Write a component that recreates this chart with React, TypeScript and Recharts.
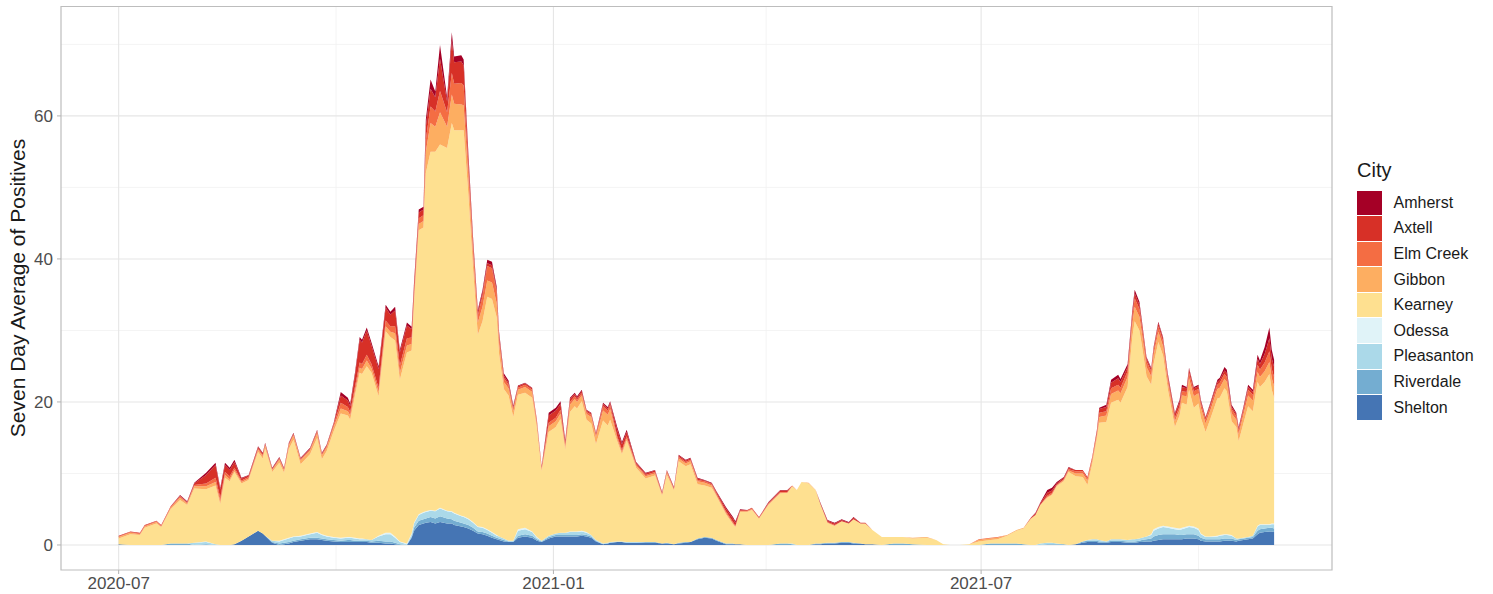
import { Area, AreaChart, CartesianGrid, ReferenceArea, XAxis, YAxis } from "recharts";

// days since 2020-07-01
const days = [
  0, 5, 9, 11, 16, 18, 22, 26, 29, 32,
  37, 41, 43, 45, 47, 49, 52, 55, 59, 61,
  62, 65, 68, 70, 72, 74, 77, 81, 84, 86,
  88, 91, 94, 97, 98, 100, 102, 103, 105, 107,
  110, 113, 115, 117, 119, 122, 124, 125, 127, 129,
  130, 132, 134, 136, 139, 141, 142, 145, 146, 148,
  150, 152, 154, 156, 158, 160, 161, 163, 165, 167,
  169, 172, 175, 177, 179, 182, 185, 187, 189, 191,
  193, 194, 196, 198, 200, 202, 205, 207, 208, 211,
  213, 215, 219, 223, 227, 230, 232, 235, 237, 240,
  242, 245, 248, 251, 253, 257, 260, 261, 263, 266,
  268, 271, 275, 280, 283, 285, 287, 289, 292, 295,
  297, 300, 303, 306, 309, 311, 314, 316, 319, 323,
  328, 332, 336, 342, 346, 349, 352, 356, 360, 364,
  369, 372, 376, 380, 383, 386, 388, 390, 393, 395,
  397, 400, 402, 405, 408, 410, 412, 414, 415, 418,
  420, 423, 424, 427, 429, 430, 432, 433, 435, 437,
  438, 440, 442, 444, 447, 449, 450, 452, 453, 455,
  457, 458, 460, 462, 465, 466, 468, 469, 471, 473,
  474, 476, 478, 480, 482, 483, 485, 487, 488, 489,
];

const shelton = [
  0.1, 0, 0, 0, 0, 0, 0, 0, 0, 0,
  0, 0, 0, 0, 0, 0.1, 0.6, 1.2, 2.0, 1.6,
  1.3, 0.3, 0, 0.1, 0.2, 0.4, 0.6, 0.8, 0.8, 0.7,
  0.6, 0.5, 0.4, 0.4, 0.4, 0.4, 0.4, 0.4, 0.4, 0.3,
  0.3, 0.2, 0.2, 0.1, 0, 0, 1.0, 2.0, 2.8, 3.0,
  3.1, 3.2, 3.0, 3.2, 3.0, 3.0, 2.8, 2.6, 2.5, 2.3,
  2.0, 1.6, 1.5, 1.3, 1.0, 0.8, 0.7, 0.5, 0.4, 0.4,
  1.0, 1.2, 1.0, 0.6, 0.4, 0.9, 1.2, 1.2, 1.2, 1.2,
  1.2, 1.2, 1.3, 1.2, 1.0, 0.5, 0.1, 0.2, 0.3, 0.4,
  0.4, 0.3, 0.3, 0.3, 0.3, 0.2, 0.2, 0.1, 0.2, 0.3,
  0.4, 0.8, 1.0, 0.9, 0.6, 0.1, 0.1, 0.1, 0.1, 0,
  0, 0, 0, 0, 0, 0, 0, 0, 0, 0.1,
  0.1, 0.2, 0.2, 0.3, 0.3, 0.2, 0.2, 0.1, 0.1, 0,
  0, 0, 0, 0, 0, 0, 0, 0, 0, 0,
  0, 0, 0, 0, 0, 0, 0, 0, 0, 0,
  0, 0, 0, 0.1, 0.3, 0.4, 0.4, 0.4, 0.3, 0.3,
  0.4, 0.4, 0.4, 0.3, 0.3, 0.3, 0.4, 0.4, 0.5, 0.5,
  0.6, 0.7, 0.8, 0.8, 0.8, 0.8, 0.8, 0.9, 0.9, 0.9,
  0.8, 0.6, 0.5, 0.5, 0.5, 0.5, 0.6, 0.6, 0.6, 0.5,
  0.6, 0.7, 0.8, 0.9, 1.5, 1.7, 1.8, 1.9, 1.9, 1.8,
];

const riverdale = [
  0, 0, 0, 0, 0, 0, 0.2, 0.2, 0.2, 0,
  0.1, 0, 0, 0, 0, 0, 0, 0, 0, 0,
  0, 0.1, 0.2, 0.2, 0.2, 0.2, 0.2, 0.2, 0.2, 0.2,
  0.2, 0.2, 0.2, 0.3, 0.3, 0.2, 0.2, 0.2, 0.2, 0.2,
  0.3, 0.3, 0.3, 0.2, 0.1, 0, 0.2, 0.4, 0.6, 0.6,
  0.6, 0.7, 0.7, 0.8, 0.7, 0.6, 0.6, 0.5, 0.5, 0.5,
  0.4, 0.3, 0.3, 0.3, 0.3, 0.2, 0.2, 0.2, 0.1, 0.1,
  0.3, 0.3, 0.3, 0.2, 0.1, 0.2, 0.2, 0.2, 0.2, 0.2,
  0.2, 0.2, 0.2, 0.2, 0.2, 0.1, 0, 0, 0, 0,
  0, 0, 0, 0.1, 0.1, 0, 0.1, 0, 0.1, 0.1,
  0, 0.1, 0.1, 0.1, 0.1, 0.1, 0.1, 0, 0, 0,
  0, 0, 0, 0.2, 0.2, 0.1, 0, 0, 0, 0.1,
  0.1, 0.1, 0.1, 0.1, 0.1, 0.1, 0, 0, 0, 0,
  0.2, 0.2, 0.1, 0, 0, 0, 0, 0, 0, 0,
  0.2, 0.2, 0.2, 0.2, 0.1, 0, 0, 0, 0.1, 0.1,
  0.1, 0.1, 0, 0, 0.2, 0.2, 0.2, 0.2, 0.2, 0.1,
  0.2, 0.2, 0.2, 0.2, 0.2, 0.2, 0.2, 0.3, 0.3, 0.4,
  0.6, 0.7, 0.7, 0.7, 0.7, 0.6, 0.6, 0.6, 0.6, 0.6,
  0.5, 0.4, 0.3, 0.3, 0.3, 0.3, 0.3, 0.3, 0.3, 0.2,
  0.2, 0.2, 0.2, 0.2, 0.5, 0.5, 0.5, 0.5, 0.5, 0.5,
];

const pleasanton = [
  0, 0, 0, 0, 0, 0, 0, 0, 0, 0.3,
  0.3, 0.1, 0, 0, 0, 0, 0, 0, 0, 0,
  0, 0.2, 0.3, 0.4, 0.5, 0.5, 0.4, 0.5, 0.7, 0.5,
  0.4, 0.3, 0.3, 0.3, 0.3, 0.3, 0.2, 0.2, 0.2, 0.2,
  0.6, 1.0, 1.0, 0.7, 0.3, 0.1, 0.3, 0.6, 0.8, 0.9,
  0.9, 0.9, 1.0, 1.1, 1.0, 1.0, 1.0, 0.9, 0.9, 0.8,
  0.7, 0.6, 0.6, 0.5, 0.4, 0.3, 0.3, 0.2, 0.1, 0.1,
  0.7, 0.7, 0.5, 0.2, 0.1, 0.2, 0.2, 0.3, 0.3, 0.4,
  0.4, 0.4, 0.4, 0.3, 0.2, 0.1, 0.1, 0.1, 0.1, 0.1,
  0.1, 0.1, 0.1, 0, 0, 0, 0, 0, 0, 0,
  0, 0, 0, 0, 0, 0, 0, 0, 0, 0,
  0, 0, 0, 0, 0, 0.1, 0, 0, 0, 0,
  0, 0, 0, 0, 0, 0, 0, 0, 0, 0,
  0, 0, 0, 0, 0, 0, 0, 0, 0, 0,
  0, 0, 0, 0, 0, 0, 0, 0.2, 0.2, 0.2,
  0.1, 0, 0, 0, 0, 0.1, 0.2, 0.2, 0.2, 0.1,
  0.2, 0.2, 0.2, 0.2, 0.3, 0.3, 0.3, 0.3, 0.4, 0.5,
  0.8, 0.9, 1.0, 0.9, 0.7, 0.7, 0.8, 0.9, 1.0, 0.9,
  0.8, 0.5, 0.3, 0.3, 0.4, 0.5, 0.5, 0.5, 0.4, 0.2,
  0.1, 0.1, 0.1, 0.2, 0.6, 0.6, 0.5, 0.4, 0.5, 0.6,
];

const odessa = [
  0, 0, 0, 0, 0, 0, 0, 0, 0, 0,
  0.1, 0, 0, 0, 0, 0, 0, 0, 0, 0,
  0, 0, 0.1, 0.1, 0.1, 0.1, 0.1, 0.1, 0.1, 0.1,
  0.1, 0.1, 0.1, 0.1, 0.1, 0.1, 0.1, 0.1, 0, 0,
  0.1, 0.2, 0.2, 0.2, 0.1, 0.1, 0.1, 0.1, 0.1, 0.1,
  0.1, 0.1, 0.1, 0.1, 0.1, 0.1, 0.1, 0.1, 0.1, 0.1,
  0.1, 0.1, 0.1, 0.1, 0.1, 0.1, 0, 0, 0, 0,
  0.2, 0.2, 0.1, 0.1, 0, 0, 0, 0, 0, 0.1,
  0.1, 0.1, 0.1, 0.1, 0, 0, 0, 0, 0, 0,
  0, 0, 0, 0, 0, 0, 0, 0, 0, 0,
  0, 0, 0, 0, 0, 0, 0, 0, 0, 0,
  0, 0, 0, 0, 0, 0, 0, 0, 0, 0,
  0, 0, 0, 0, 0, 0, 0, 0, 0, 0,
  0, 0, 0, 0, 0, 0, 0, 0, 0, 0,
  0, 0, 0, 0, 0, 0, 0, 0, 0, 0,
  0, 0, 0, 0, 0, 0, 0, 0, 0, 0,
  0, 0, 0, 0, 0, 0, 0, 0, 0, 0.1,
  0.2, 0.2, 0.2, 0.2, 0.2, 0.2, 0.2, 0.2, 0.2, 0.2,
  0.2, 0.1, 0.1, 0.1, 0.1, 0.1, 0.1, 0.1, 0.1, 0,
  0, 0, 0, 0, 0.1, 0.1, 0.1, 0.1, 0.1, 0.1,
];

const kearney = [
  0.8, 1.5, 1.4, 2.4, 3.0, 2.5, 4.8, 6.1, 5.4, 7.6,
  7.3, 8.2, 5.7, 9.4, 8.9, 10.1, 8.0, 7.9, 11.0, 10.5,
  12.2, 9.6, 10.9, 9.3, 12.4, 13.5, 10.0, 11.1, 13.2, 10.5,
  11.8, 14.8, 17.4, 17.0, 16.4, 19.9, 23.2, 23.0, 24.2, 23.4,
  19.5, 28.2, 27.4, 27.4, 22.6, 26.7, 25.6, 30.6, 39.7, 39.8,
  47.3, 50.1, 50.2, 50.8, 50.7, 54.3, 53.5, 53.9, 54.0, 45.3,
  35.4, 26.8, 28.8, 32.5, 32.6, 30.4, 25.5, 20.9, 20.3, 17.3,
  18.8, 18.9, 18.7, 15.2, 9.7, 14.5, 14.9, 15.9, 11.6, 16.7,
  17.5, 17.2, 18.1, 15.7, 15.6, 13.4, 17.2, 16.4, 17.1, 14.0,
  12.2, 14.2, 10.4, 8.9, 9.3, 6.7, 9.5, 7.5, 11.4, 10.6,
  10.9, 7.6, 7.2, 7.0, 6.1, 4.1, 2.7, 2.4, 4.5, 4.6,
  4.9, 3.7, 5.6, 7.0, 7.1, 8.0, 7.7, 8.8, 8.6, 7.4,
  5.5, 2.8, 2.4, 2.9, 2.6, 3.3, 2.8, 2.9, 2.0, 1.1,
  0.9, 0.9, 0.8, 1.0, 0.7, 0.1, 0, 0, 0.1, 0.5,
  0.5, 0.6, 1.1, 1.8, 2.2, 3.6, 4.2, 5.4, 6.3, 6.7,
  8.0, 8.8, 10.2, 9.5, 9.0, 7.7, 10.5, 14.1, 16.4, 16.7,
  19.1, 19.5, 19.1, 21.4, 28.3, 30.5, 29.1, 27.0, 22.4, 20.9,
  23.1, 25.9, 23.8, 19.2, 14.1, 15.8, 17.5, 17.0, 19.0, 16.6,
  17.5, 16.2, 14.6, 16.4, 19.2, 19.2, 20.4, 20.0, 15.9, 15.6,
  13.6, 16.0, 18.3, 17.4, 20.1, 19.2, 19.9, 21.0, 18.7, 17.6,
];

const gibbon = [
  0.2, 0.2, 0.1, 0.2, 0.2, 0.1, 0.2, 0.3, 0.2, 0.3,
  0.4, 0.5, 0.4, 0.4, 0.3, 0.3, 0.2, 0.2, 0.3, 0.3,
  0.4, 0.3, 0.4, 0.3, 0.5, 0.6, 0.5, 0.5, 0.6, 0.5,
  0.5, 0.6, 0.7, 0.6, 0.6, 0.6, 0.7, 0.7, 0.8, 0.6,
  0.6, 0.7, 0.7, 1.0, 1.0, 1.0, 0.9, 0.9, 0.9, 0.9,
  3.0, 4.0, 3.5, 4.5, 3.0, 4.0, 3.7, 3.6, 3.5, 2.4,
  2.0, 1.7, 2.0, 2.3, 2.3, 2.0, 1.5, 1.0, 1.0, 0.8,
  0.7, 0.8, 0.8, 0.6, 0.3, 0.8, 0.8, 0.8, 0.5, 1.0,
  1.0, 0.9, 0.8, 0.8, 0.9, 1.0, 1.4, 1.5, 1.5, 0.4,
  0.3, 0.3, 0.3, 0.3, 0.3, 0.2, 0.3, 0.2, 0.4, 0.4,
  0.4, 0.4, 0.4, 0.3, 0.2, 0.2, 0.1, 0.1, 0.1, 0.1,
  0.1, 0, 0.1, 0.1, 0, 0, 0, 0, 0.1, 0.1,
  0, 0, 0, 0, 0, 0, 0, 0, 0, 0,
  0, 0, 0.1, 0.1, 0, 0, 0, 0, 0, 0.2,
  0.2, 0.2, 0.1, 0.1, 0.1, 0.1, 0, 0, 0.1, 0.1,
  0.1, 0.2, 0.2, 0.4, 0.5, 0.6, 0.5, 0.5, 0.8, 0.9,
  1.2, 1.3, 1.3, 1.4, 1.8, 2.0, 1.9, 1.7, 1.3, 1.2,
  1.2, 1.4, 1.3, 1.0, 0.8, 0.8, 1.0, 1.2, 1.6, 1.6,
  1.4, 1.4, 1.2, 1.2, 1.3, 1.4, 1.3, 1.3, 1.1, 1.0,
  1.0, 1.2, 1.5, 1.5, 1.4, 1.4, 1.5, 1.7, 1.6, 1.6,
];

const elmCreek = [
  0.1, 0.1, 0.1, 0.1, 0.1, 0.1, 0.1, 0.2, 0.1, 0.2,
  0.4, 0.6, 0.5, 0.4, 0.4, 0.3, 0.2, 0.2, 0.2, 0.2,
  0.2, 0.1, 0.2, 0.2, 0.2, 0.2, 0.2, 0.2, 0.3, 0.2,
  0.2, 0.3, 0.8, 0.6, 0.5, 0.6, 0.7, 0.7, 0.8, 0.6,
  0.6, 0.8, 0.8, 1.0, 1.0, 1.0, 0.9, 0.8, 0.8, 0.8,
  1.7, 2.3, 2.1, 3.0, 2.0, 3.0, 2.8, 3.0, 2.8, 1.6,
  1.2, 1.0, 1.5, 2.0, 2.0, 1.5, 1.0, 0.6, 0.5, 0.4,
  0.3, 0.3, 0.3, 0.3, 0.2, 0.5, 0.5, 0.5, 0.3, 0.4,
  0.4, 0.3, 0.3, 0.3, 0.3, 0.3, 0.6, 0.6, 0.6, 0.3,
  0.3, 0.3, 0.2, 0.2, 0.2, 0.1, 0.2, 0.1, 0.2, 0.2,
  0.2, 0.2, 0.2, 0.2, 0.2, 0.2, 0.2, 0.1, 0.1, 0.1,
  0.1, 0.1, 0.1, 0.1, 0.1, 0.1, 0, 0, 0, 0,
  0, 0.1, 0.1, 0, 0, 0, 0, 0, 0, 0,
  0, 0, 0, 0, 0, 0, 0, 0, 0, 0.1,
  0.1, 0.1, 0, 0, 0, 0, 0, 0, 0.2, 0.2,
  0.1, 0.1, 0.2, 0.3, 0.3, 0.3, 0.3, 0.3, 0.6, 0.6,
  0.8, 0.8, 0.8, 0.8, 1.0, 1.2, 1.1, 1.0, 0.8, 0.7,
  0.7, 0.8, 0.7, 0.6, 0.5, 0.5, 0.6, 0.6, 0.8, 0.7,
  0.6, 0.6, 0.5, 0.6, 0.6, 0.7, 0.7, 0.7, 0.6, 0.5,
  0.5, 0.6, 0.8, 0.8, 1.0, 1.0, 1.2, 1.5, 1.3, 1.3,
];

const axtell = [
  0.1, 0.1, 0.1, 0.1, 0.1, 0.1, 0.1, 0.1, 0.1, 0.2,
  1.2, 1.8, 1.2, 1.0, 0.9, 0.8, 0.3, 0.2, 0.2, 0.2,
  0.1, 0.1, 0.1, 0.1, 0.1, 0.1, 0.1, 0.1, 0.1, 0.1,
  0.1, 0.2, 1.0, 0.9, 0.8, 1.6, 3.2, 3.0, 3.4, 2.6,
  2.6, 1.8, 1.6, 2.2, 1.8, 1.8, 1.2, 1.0, 0.8, 0.8,
  1.8, 2.5, 2.0, 4.5, 1.5, 4.5, 3.0, 3.0, 2.8, 1.4,
  0.8, 0.5, 0.5, 0.4, 0.4, 0.4, 0.3, 0.3, 0.3, 0.2,
  0.2, 0.2, 0.2, 0.2, 0.1, 1.0, 1.0, 0.8, 0.4, 0.4,
  0.3, 0.3, 0.3, 0.2, 0.2, 0.2, 0.3, 0.3, 0.3, 0.9,
  0.8, 0.6, 0.2, 0.2, 0.2, 0.1, 0.1, 0.1, 0.2, 0.2,
  0.2, 0.2, 0.1, 0.1, 0.2, 0.4, 0.5, 0.4, 0.1, 0.1,
  0.1, 0.1, 0.1, 0.2, 0.2, 0, 0, 0, 0, 0,
  0.1, 0.2, 0.2, 0.2, 0.1, 0.2, 0.1, 0.1, 0, 0,
  0, 0, 0, 0, 0, 0, 0, 0, 0, 0,
  0, 0, 0, 0, 0, 0.1, 0.2, 0.2, 0.4, 0.3,
  0.2, 0.2, 0.2, 0.2, 0.2, 0.2, 0.2, 0.3, 0.5, 0.6,
  0.8, 0.9, 0.8, 0.6, 0.6, 0.7, 0.6, 0.5, 0.4, 0.3,
  0.3, 0.4, 0.4, 0.4, 0.5, 0.6, 0.6, 0.5, 0.5, 0.4,
  0.4, 0.3, 0.3, 0.3, 0.4, 0.4, 0.5, 0.5, 0.3, 0.3,
  0.3, 0.3, 0.4, 0.4, 0.8, 0.8, 1.2, 1.8, 1.5, 1.4,
];

const amherst = [
  0, 0, 0, 0, 0, 0, 0, 0.1, 0.1, 0.1,
  0.3, 0.3, 0.2, 0.3, 0.3, 0.3, 0.1, 0.1, 0.1, 0.1,
  0.1, 0.1, 0.1, 0.1, 0.1, 0.1, 0.1, 0.1, 0.1, 0.1,
  0.1, 0.1, 0.5, 0.4, 0.4, 0.4, 0.4, 0.4, 0.4, 0.4,
  0.4, 0.4, 0.4, 0.5, 0.4, 0.4, 0.3, 0.3, 0.4, 0.4,
  1.0, 1.3, 0.8, 1.9, 0.6, 1.2, 0.8, 0.9, 0.8, 0.5,
  0.4, 0.3, 0.4, 0.5, 0.5, 0.4, 0.3, 0.3, 0.3, 0.2,
  0.1, 0.1, 0.1, 0.1, 0.1, 0.4, 0.4, 0.4, 0.2, 0.2,
  0.2, 0.2, 0.2, 0.1, 0.1, 0.1, 0.2, 0.2, 0.2, 0.4,
  0.3, 0.3, 0.1, 0.1, 0.1, 0.1, 0.1, 0.1, 0.1, 0.1,
  0.1, 0.1, 0.1, 0.1, 0.1, 0.2, 0.2, 0.2, 0.1, 0,
  0, 0, 0.1, 0.1, 0.1, 0, 0, 0, 0, 0,
  0.1, 0.1, 0.1, 0.1, 0.1, 0.1, 0, 0, 0, 0,
  0, 0, 0, 0, 0, 0, 0, 0, 0, 0,
  0, 0, 0, 0, 0, 0, 0.1, 0.1, 0.4, 0.4,
  0.2, 0.1, 0.1, 0, 0, 0, 0, 0.1, 0.2, 0.3,
  0.4, 0.5, 0.4, 0.4, 0.4, 0.5, 0.4, 0.3, 0.2, 0.2,
  0.2, 0.2, 0.2, 0.2, 0.2, 0.3, 0.3, 0.2, 0.2, 0.2,
  0.2, 0.2, 0.1, 0.2, 0.3, 0.3, 0.5, 0.5, 0.3, 0.2,
  0.2, 0.2, 0.3, 0.3, 0.6, 0.5, 1.0, 1.5, 1.2, 1.0,
];

const cities = ["Amherst", "Axtell", "Elm Creek", "Gibbon", "Kearney", "Odessa", "Pleasanton", "Riverdale", "Shelton"];
const cityColors = ["#A50026", "#D73027", "#F46D43", "#FDAE61", "#FEE090", "#E0F3F8", "#ABD9E9", "#74ADD1", "#4575B4"];
const cityValues = [amherst, axtell, elmCreek, gibbon, kearney, odessa, pleasanton, riverdale, shelton];

const xTicks = [0, 184, 365];
const xTickLabels = ["2020-07", "2021-01", "2021-07"];
const xMinor = [92, 274, 457];
const yTicks = [0, 20, 40, 60];
const yMinor = [10, 30, 50, 70];

const X_DOMAIN: [number, number] = [-24.4, 513.5];
const Y_DOMAIN: [number, number] = [-3.5, 75.3];

const data = days.map((day, i) => {
  const row: Record<string, number> = { day };
  cities.forEach((c, k) => {
    row[c] = cityValues[k][i];
  });
  return row;
});

// ggplot stacks the first level on top, so draw from the last city up
const stackOrder = cities.map((c, k) => ({ name: c, color: cityColors[k] })).reverse();

const FONT = '"Liberation Sans", Arial, Helvetica, sans-serif';

export default function App() {
  return (
    <div style={{ position: "absolute", left: 0, top: 0, width: 1493, height: 594, background: "#fff", fontFamily: FONT }}>
      <AreaChart
        width={1340}
        height={594}
        data={data}
        margin={{ top: 6.5, right: 8, bottom: 0, left: 8 }}
      >
        <CartesianGrid
          stroke="#F1F1F1"
          strokeWidth={0.8}
          horizontalValues={yMinor}
          verticalValues={xMinor}
        />
        <CartesianGrid
          stroke="#E6E6E6"
          strokeWidth={1.1}
          horizontalValues={yTicks}
          verticalValues={xTicks}
        />
        <XAxis
          dataKey="day"
          type="number"
          domain={X_DOMAIN}
          allowDataOverflow
          ticks={xTicks}
          tickFormatter={(v: number) => xTickLabels[xTicks.indexOf(v)] ?? ""}
          axisLine={false}
          tickLine={{ stroke: "#B3B3B3" }}
          tickSize={4}
          tickMargin={3}
          height={24}
          tick={{ fill: "#4D4D4D", fontSize: 17, fontFamily: FONT }}
        />
        <YAxis
          type="number"
          domain={Y_DOMAIN}
          allowDataOverflow
          ticks={yTicks}
          axisLine={false}
          tickLine={{ stroke: "#B3B3B3" }}
          tickSize={4}
          tickMargin={4}
          width={53}
          tick={{ fill: "#4D4D4D", fontSize: 17, fontFamily: FONT }}
        />
        {stackOrder.map((s) => (
          <Area
            key={s.name}
            type="linear"
            dataKey={s.name}
            stackId="city"
            fill={s.color}
            fillOpacity={1}
            stroke="none"
            isAnimationActive={false}
            dot={false}
            activeDot={false}
          />
        ))}
        <ReferenceArea
          x1={X_DOMAIN[0]}
          x2={X_DOMAIN[1]}
          y1={Y_DOMAIN[0]}
          y2={Y_DOMAIN[1]}
          fill="none"
          stroke="#BDBDBD"
          strokeWidth={1.2}
          ifOverflow="visible"
        />
      </AreaChart>

      <div
        style={{
          position: "absolute",
          left: 18,
          top: 288,
          transform: "translate(-50%, -50%) rotate(-90deg)",
          whiteSpace: "nowrap",
          fontSize: 21,
          color: "#1A1A1A",
        }}
      >
        Seven Day Average of Positives
      </div>

      <div style={{ position: "absolute", left: 1357, top: 158 }}>
        <div style={{ fontSize: 20, lineHeight: "24px", color: "#1A1A1A", height: 32 }}>City</div>
        {cities.map((c, k) => (
          <div key={c} style={{ display: "flex", alignItems: "center", height: 25.6 }}>
            <div style={{ width: 24.5, height: 24.6, background: cityColors[k] }} />
            <div style={{ marginLeft: 12, fontSize: 16, color: "#1A1A1A" }}>{c}</div>
          </div>
        ))}
      </div>
    </div>
  );
}
